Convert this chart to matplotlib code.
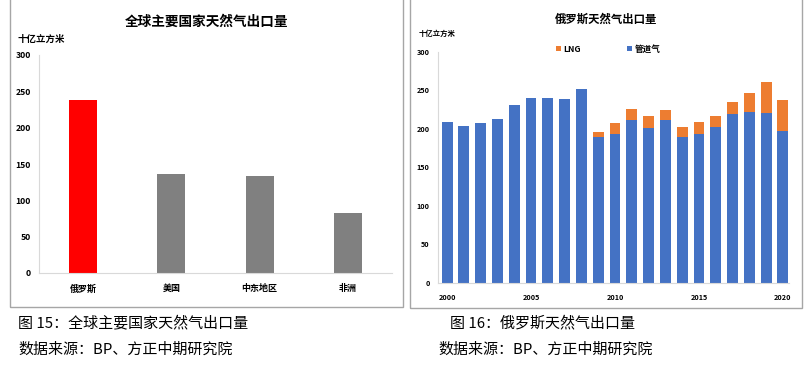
import matplotlib
matplotlib.use("Agg")
import matplotlib.pyplot as plt
from matplotlib.patches import Rectangle, Patch

plt.rcParams['font.family'] = ['Noto Sans CJK SC', 'DejaVu Sans']

# ---- data ----
regions = ["俄罗斯", "美国", "中东地区", "非洲"]
exports = [238, 136, 134, 82]
region_colors = ["#FF0000", "#808080", "#808080", "#808080"]

years = list(range(2000, 2021))
pipeline = [208.6, 203.4, 207.8, 212.5, 230.8, 239.5, 240.4, 238.6, 251.6,
            189.5, 193.5, 210.8, 201.3, 210.8, 189.0, 193.9, 202.0, 219.6,
            221.7, 220.8, 197.4]
lng = [0, 0, 0, 0, 0, 0, 0, 0, 0,
       6.6, 13.4, 14.4, 14.8, 14.2, 13.5, 14.5, 14.0, 15.5, 24.9, 39.4, 40.4]
year_ticks = [2000, 2005, 2010, 2015, 2020]
y_ticks = [0, 50, 100, 150, 200, 250, 300]

W, H = 809, 370
fig = plt.figure(figsize=(W / 100, H / 100), dpi=100)

def fx(px):
    return px / W

def fy(py):
    return (H - py) / H

# panel borders
for x0, x1, yb in [(10, 403, 306.5), (410, 802, 307.5)]:
    fig.patches.append(Rectangle((fx(x0), fy(yb)), fx(x1) - fx(x0), 1.2 - fy(yb),
                                 transform=fig.transFigure, fill=False,
                                 edgecolor="#A6A6A6", linewidth=1.0, clip_on=False))

spine_c = "#D9D9D9"

# ---- left chart ----
ax1 = fig.add_axes([fx(39), fy(273), fx(392) - fx(39), fy(55) - fy(273)])
ax1.bar(range(len(regions)), exports, width=0.32, color=region_colors)
ax1.set_xlim(-0.5, len(regions) - 0.5)
ax1.set_ylim(0, 300)
ax1.set_yticks(y_ticks)
ax1.set_xticks(range(len(regions)))
ax1.set_xticklabels(regions)
for s in ["top", "right"]:
    ax1.spines[s].set_visible(False)
for s in ["left", "bottom"]:
    ax1.spines[s].set_color(spine_c)
ax1.tick_params(axis="y", length=0, pad=6, labelsize=6.2)
ax1.tick_params(axis="x", length=0, pad=8, labelsize=6.5)
for t in ax1.get_yticklabels() + ax1.get_xticklabels():
    t.set_fontweight("bold")
fig.text(fx(207), fy(22), "全球主要国家天然气出口量", ha="center", va="center",
         fontsize=9.8, fontweight="bold")
fig.text(fx(17), fy(39), "十亿立方米", ha="left", va="center",
         fontsize=6.8, fontweight="bold")

# ---- right chart ----
ax2 = fig.add_axes([fx(438), fy(283), fx(788.5) - fx(438), fy(51.7) - fy(283)])
ax2.bar(years, pipeline, width=0.65, color="#4472C4", label="管道气")
ax2.bar(years, lng, width=0.65, bottom=pipeline, color="#ED7D31", label="LNG")
ax2.set_xlim(2000 - 0.54, 2020 + 0.33)
ax2.set_ylim(0, 300)
ax2.set_yticks(y_ticks)
ax2.set_xticks(year_ticks)
for s in ["top", "right"]:
    ax2.spines[s].set_visible(False)
for s in ["left", "bottom"]:
    ax2.spines[s].set_color(spine_c)
ax2.tick_params(axis="y", length=0, pad=6, labelsize=5.2)
ax2.tick_params(axis="x", length=0, pad=8, labelsize=5.2)
for t in ax2.get_yticklabels() + ax2.get_xticklabels():
    t.set_fontweight("bold")
fig.text(fx(606), fy(19), "俄罗斯天然气出口量", ha="center", va="center",
         fontsize=8.2, fontweight="bold")
fig.text(fx(419), fy(33), "十亿立方米", ha="left", va="center",
         fontsize=5.3, fontweight="bold")
handles = [Patch(facecolor="#ED7D31"), Patch(facecolor="#4472C4")]
leg = fig.legend(handles, ["LNG", "管道气"], loc="center left",
                 bbox_to_anchor=(fx(548), fy(49)), ncol=2, frameon=False,
                 handlelength=0.6, handleheight=0.6, handletextpad=0.3,
                 columnspacing=5.3, prop={"size": 6.2, "weight": "bold"})

# ---- captions ----
cap = dict(ha="left", va="center", fontsize=10.8)
fig.text(fx(18), fy(323), "图 15：全球主要国家天然气出口量", **cap)
fig.text(fx(18), fy(350), "数据来源：BP、方正中期研究院", **cap)
fig.text(fx(450), fy(323), "图 16：俄罗斯天然气出口量", **cap)
fig.text(fx(438), fy(350), "数据来源：BP、方正中期研究院", **cap)

fig.savefig("out.png", dpi=100, facecolor="white")
